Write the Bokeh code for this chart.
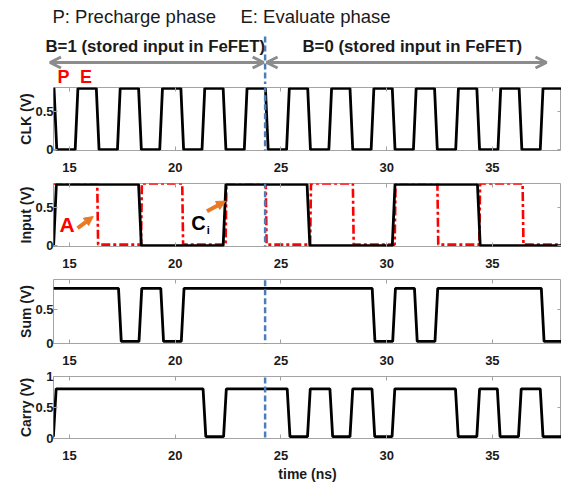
from bokeh.plotting import figure
from bokeh.layouts import column
from bokeh.models import Range1d, LinearAxis, FixedTicker, Arrow, OpenHead, NormalHead, Label
from bokeh.embed import file_html
from bokeh.resources import INLINE

# ---------------- data ----------------
X_START, X_END = 14.24, 38.27          # time axis (ns)
X_TICKS = [15, 20, 25, 30, 35]
B_SWITCH = 24.25                       # B=1 -> B=0 boundary (ns)

# transition times (ns) of each waveform, with starting state and low/high levels (V)
CLK_EDGES = [14.33, 15.33, 16.33, 17.33, 18.33, 19.33, 20.33, 21.33, 22.33, 23.33,
             24.33, 25.33, 26.33, 27.33, 28.33, 29.33, 30.33, 31.33, 32.33, 33.33,
             34.33, 35.33, 36.33, 37.33]
CLK_START_HIGH = True
CLK_LEVELS = [0.0, 0.8]

CI_EDGES = [14.31, 18.33, 22.33, 26.3, 30.33, 34.36]
CI_START_HIGH = False
CI_LEVELS = [0.0, 0.8]

A_EDGES = [16.33, 18.4, 20.35, 22.4, 24.3, 26.4, 28.42, 30.4, 32.42, 34.4, 36.45]
A_START_HIGH = True
A_LEVELS = [0.015, 0.81]

SUM_EDGES = [17.38, 18.35, 19.38, 20.35, 29.38, 30.35, 31.38, 32.35, 37.38]
SUM_START_HIGH = True
SUM_LEVELS = [0.03, 0.8]

CARRY_EDGES = [14.3, 21.38, 22.35, 25.36, 26.32, 27.38, 28.33, 29.37, 30.32,
               33.32, 34.33, 35.3, 36.3, 37.33]
CARRY_START_HIGH = False
CARRY_LEVELS = [0.03, 0.8]

# panel y ranges / ticks
CLK_YR = [-0.01, 0.81]
INPUT_YR = [-0.01, 0.81]
SUM_YR = [0.0, 0.93]
CARRY_YR = [0.0, 1.0]
Y_TICKS_SMALL = [0, 0.5]
Y_TICKS_CARRY = [0, 0.5, 1]

# ---------------- style / layout constants ----------------
FONT = "Liberation Sans"
BOX = "#a3a3a3"
BLUE = "#4a7ebb"
ORANGE = "#e87a26"
ARROW_GRAY = "#8c8c8c"
W = 561
LEFT = 53
FRAME_W = W - LEFT
PX_PER_NS = FRAME_W / (X_END - X_START)


def px_to_x(px):
    return X_START + (px - LEFT) / PX_PER_NS


def waveform(edges, start_high, levels, ramp):
    lo, hi = levels
    level = hi if start_high else lo
    xs, ys = [X_START], [level]
    for e in edges:
        xs.append(e - ramp / 2); ys.append(level)
        level = lo if level == hi else hi
        xs.append(e + ramp / 2); ys.append(level)
    xs.append(X_END); ys.append(level)
    return xs, ys


def style_axis(ax, labels=True):
    ax.axis_line_color = None
    ax.major_tick_in = 4
    ax.major_tick_out = 0
    ax.minor_tick_line_color = None
    ax.major_tick_line_color = BOX
    ax.major_label_text_font = FONT
    ax.major_label_text_font_style = "bold"
    ax.major_label_text_font_size = "13px"
    ax.major_label_text_color = "#1a1a1a"
    if not labels:
        ax.major_label_text_font_size = "0px"
        ax.major_label_standoff = 0


x_range = Range1d(X_START, X_END)


def panel(ylabel, yr, yticks, top, frame_h, bottom, xlabel=None):
    p = figure(width=W, height=top + frame_h + bottom, x_range=x_range,
               y_range=Range1d(*yr), x_axis_type=None, y_axis_type=None,
               output_backend="svg", toolbar_location=None,
               min_border_left=LEFT, min_border_right=0,
               min_border_top=top, min_border_bottom=bottom)
    p.outline_line_color = BOX
    p.outline_line_width = 1
    p.background_fill_color = "white"
    p.border_fill_color = "white"

    xb = LinearAxis(ticker=FixedTicker(ticks=X_TICKS))
    style_axis(xb)
    xb.major_label_standoff = 12
    if xlabel:
        xb.axis_label = xlabel
        xb.axis_label_text_font = FONT
        xb.axis_label_text_font_style = "bold"
        xb.axis_label_text_font_size = "14px"
        xb.axis_label_text_color = "#1a1a1a"
        xb.axis_label_standoff = 3
    p.add_layout(xb, "below")

    xa = LinearAxis(ticker=FixedTicker(ticks=X_TICKS))
    style_axis(xa, labels=False)
    p.add_layout(xa, "above")

    yl = LinearAxis(ticker=FixedTicker(ticks=yticks))
    style_axis(yl)
    yl.major_label_standoff = 0
    yl.major_label_overrides = {0: "0", 0.5: "0.5", 1: "1"}
    yl.axis_label = ylabel
    yl.axis_label_text_font = FONT
    yl.axis_label_text_font_style = "bold"
    yl.axis_label_text_font_size = "14px"
    yl.axis_label_text_color = "#1a1a1a"
    yl.axis_label_standoff = -2
    p.add_layout(yl, "left")

    yr_ax = LinearAxis(ticker=FixedTicker(ticks=yticks))
    style_axis(yr_ax, labels=False)
    p.add_layout(yr_ax, "right")

    # B boundary dashed line
    p.add_layout(Arrow(x_start=B_SWITCH, y_start=yr[0] - 1, x_end=B_SWITCH, y_end=yr[1] + 1,
                       start=None, end=None, line_color=BLUE, line_width=2.5,
                       line_dash="6 3"))
    return p


# ---------------- header (titles, B=1 / B=0 arrows, P E) ----------------
HEADER_H = 84
hdr = figure(width=W, height=HEADER_H,
             x_range=Range1d(px_to_x(0), px_to_x(W)),
             y_range=Range1d(HEADER_H, 0), x_axis_type=None, y_axis_type=None,
             output_backend="svg", toolbar_location=None,
             min_border_left=0, min_border_right=0, min_border_top=0, min_border_bottom=0)
hdr.frame_align = False
hdr.outline_line_color = None


def hlabel(px, py, text, size, bold=False, color="#1a1a1a"):
    hdr.add_layout(Label(x=px_to_x(px), y=py, text=text, text_font=FONT,
                         text_font_size=size,
                         text_font_style="bold" if bold else "normal",
                         text_color=color, text_baseline="alphabetic",
                         text_align="left"))


hlabel(52, 16, "P: Precharge phase", "18.5px")
hlabel(240, 16, "E: Evaluate phase", "18.5px")
hlabel(45, 45.5, "B=1 (stored input in FeFET)", "16.8px", bold=True)
hlabel(302, 45.5, "B=0 (stored input in FeFET)", "16.8px", bold=True)
hlabel(57, 76, "P", "18px", bold=True, color="#ff0000")
hlabel(79.5, 76, "E", "18px", bold=True, color="#ff0000")

for xs, xe in [(px_to_x(49.5), B_SWITCH - 0.07), (B_SWITCH + 0.07, px_to_x(546))]:
    hdr.add_layout(Arrow(x_start=xs, y_start=62, x_end=xe, y_end=62,
                         start=OpenHead(size=11, line_color=ARROW_GRAY, line_width=3),
                         end=OpenHead(size=11, line_color=ARROW_GRAY, line_width=3),
                         line_color=ARROW_GRAY, line_width=3))
hdr.add_layout(Arrow(x_start=B_SWITCH, y_start=36, x_end=B_SWITCH, y_end=HEADER_H,
                     start=None, end=None, line_color=BLUE, line_width=2.5, line_dash="6 3"))

# ---------------- CLK panel ----------------
p_clk = panel("CLK (V)", CLK_YR, Y_TICKS_SMALL, 3, 63, 30)
x, y = waveform(CLK_EDGES, CLK_START_HIGH, CLK_LEVELS, 0.13)
p_clk.line(x, y, line_color="black", line_width=2.8)

# ---------------- Input panel ----------------
p_in = panel("Input (V)", INPUT_YR, Y_TICKS_SMALL, 3, 63, 30)
x, y = waveform(A_EDGES, A_START_HIGH, A_LEVELS, 0.04)
p_in.line(x, y, line_color="#ff0000", line_width=2.6, line_dash="9 3 3 3")
x, y = waveform(CI_EDGES, CI_START_HIGH, CI_LEVELS, 0.13)
p_in.line(x, y, line_color="black", line_width=2.8)
p_in.add_layout(Label(x=14.88, y=0.28, text="A", text_font=FONT, text_font_size="21px",
                      text_font_style="bold", text_color="#ff0000",
                      text_align="center", text_baseline="middle"))
p_in.add_layout(Arrow(x_start=15.38, y_start=0.23, x_end=16.12, y_end=0.38,
                      end=NormalHead(size=9, fill_color=ORANGE, line_color=ORANGE),
                      line_color=ORANGE, line_width=4))
p_in.add_layout(Label(x=21.1, y=0.3, text="C", text_font=FONT, text_font_size="20px",
                      text_font_style="bold", text_color="black",
                      text_align="center", text_baseline="middle"))
p_in.add_layout(Label(x=21.56, y=0.2, text="i", text_font=FONT, text_font_size="11px",
                      text_font_style="bold", text_color="black",
                      text_align="center", text_baseline="middle"))
p_in.add_layout(Arrow(x_start=21.5, y_start=0.45, x_end=22.38, y_end=0.58,
                      end=NormalHead(size=9, fill_color=ORANGE, line_color=ORANGE),
                      line_color=ORANGE, line_width=4))

# ---------------- Sum panel ----------------
p_sum = panel("Sum (V)", SUM_YR, Y_TICKS_SMALL, 3, 64, 25)
x, y = waveform(SUM_EDGES, SUM_START_HIGH, SUM_LEVELS, 0.13)
p_sum.line(x, y, line_color="black", line_width=2.8)

# ---------------- Carry panel ----------------
p_car = panel("Carry (V)", CARRY_YR, Y_TICKS_CARRY, 8, 62, 46, xlabel="time (ns)")
x, y = waveform(CARRY_EDGES, CARRY_START_HIGH, CARRY_LEVELS, 0.13)
p_car.line(x, y, line_color="black", line_width=2.8)

layout = column(hdr, p_clk, p_in, p_sum, p_car, spacing=0)

open("out.html", "w").write(file_html(layout, INLINE))
